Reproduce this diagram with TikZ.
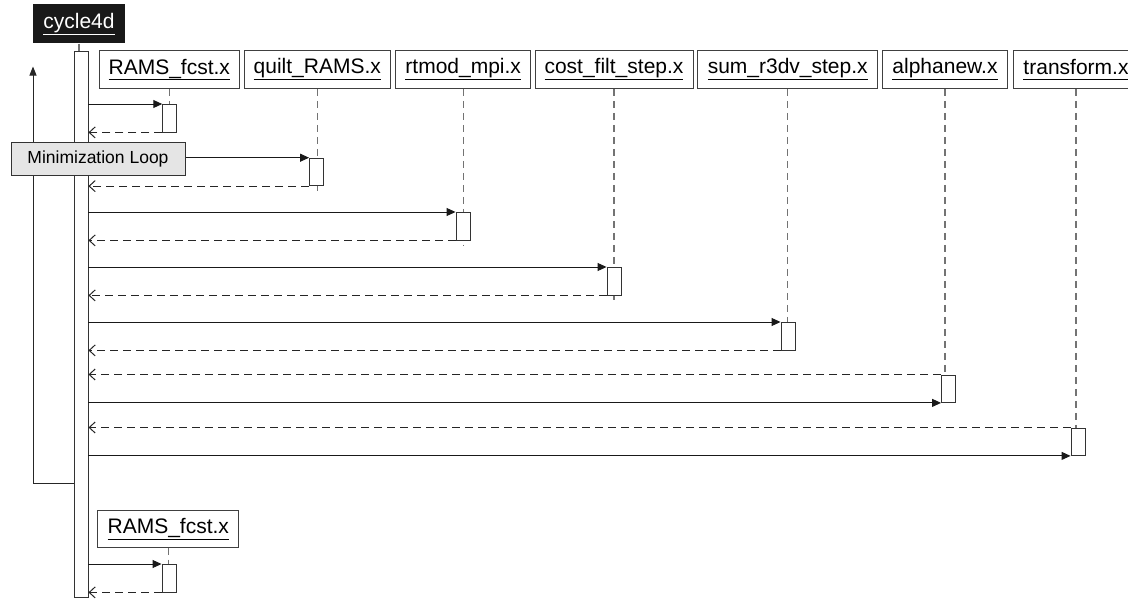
\documentclass[tikz,border=0pt]{standalone}
\usepackage{fontspec}
\setmainfont{Liberation Sans}
\usetikzlibrary{arrows.meta}
\newcommand{\ulname}[1]{\underline{\vphantom{\_}#1}}
\begin{document}
\begin{tikzpicture}[x=1pt,y=-1pt,
  obj/.style={draw=black!75, line width=0.9pt, fill=white, minimum height=38pt, inner sep=0pt, font=\fontsize{21}{24}\selectfont},
  act/.style={draw=black!80, fill=white, line width=0.9pt, minimum width=14pt, minimum height=27.5pt, inner sep=0pt, anchor=north},
  life/.style={draw=black!55, line width=1.2pt, dash pattern=on 7pt off 5pt},
  call/.style={draw=black!90, line width=1pt, -{Triangle[length=9pt,width=8pt]}},
  ret/.style={draw=black!85, line width=1pt, dash pattern=on 8pt off 5pt, -{Straight Barb[length=6pt,width=11pt]}},
  loopline/.style={draw=black!85, line width=1pt, -{Triangle[length=9pt,width=7pt]}},
]
\useasboundingbox (0,0) rectangle (1128,598);
% header and main activation
\node[fill=black!90, text=white, minimum width=92pt, minimum height=39pt, inner sep=0pt, font=\fontsize{21}{24}\selectfont] (c4) at (79,23.8) {\ulname{cycle4d}};
\node[draw=black!80, fill=white, line width=0.9pt, minimum width=14pt, minimum height=546pt, inner sep=0pt, anchor=north] (main) at (81,50.7) {};
\draw[life] (c4.south) -- (main.north -| c4.south);
% objects
\node[obj, minimum width=140pt] (o1) at (169.3,69.5) {\ulname{RAMS\_fcst.x}};
\node[obj, minimum width=146.7pt] (o2) at (317.3,69.5) {\ulname{quilt\_RAMS.x}};
\node[obj, minimum width=135pt] (o3) at (463.2,69.5) {\ulname{rtmod\_mpi.x}};
\node[obj, minimum width=158pt] (o4) at (614,69.5) {\ulname{cost\_filt\_step.x}};
\node[obj, minimum width=180pt] (o5) at (787.7,69.5) {\ulname{sum\_r3dv\_step.x}};
\node[obj, minimum width=125.4pt] (o6) at (945,69.5) {\ulname{alphanew.x}};
\node[obj, minimum width=126pt] (o7) at (1076,69.5) {\ulname{transform.x}};
\node[obj, minimum width=141pt, minimum height=37pt] (o8) at (168.3,528.7) {\ulname{RAMS\_fcst.x}};
% lifelines
\draw[life] (o1.south) -- ++(0,15.5);
\draw[life] (o2.south) -- ++(0,102.5);
\draw[life] (o3.south) -- ++(0,156.5);
\draw[life] (o4.south) -- ++(0,214.5);
\draw[life] (o5.south) -- ++(0,233.5);
\draw[life] (o6.south) -- ++(0,286);
\draw[life] (o7.south) -- ++(0,367);
\draw[life] (o8.south) -- ++(0,17);
% activations
\node[act] (a1) at (169.7,104) {};
\node[act] (a2) at (316.5,157.7) {};
\node[act] (a3) at (463,212) {};
\node[act] (a4) at (614,267) {};
\node[act] (a5) at (788,322) {};
\node[act] (a6) at (948.5,374.5) {};
\node[act] (a7) at (1078,427.5) {};
\node[act] (a8) at (169,564) {};
% messages
\draw[call] (main.east |- a1.north west) -- (a1.north west);
\draw[ret] (a1.south west) -- (main.east |- a1.south west);
\draw[call] (main.east |- a2.north west) -- (a2.north west);
\draw[ret] (a2.south west) -- (main.east |- a2.south west);
\draw[call] (main.east |- a3.north west) -- (a3.north west);
\draw[ret] (a3.south west) -- (main.east |- a3.south west);
\draw[call] (main.east |- a4.north west) -- (a4.north west);
\draw[ret] (a4.south west) -- (main.east |- a4.south west);
\draw[call] (main.east |- a5.north west) -- (a5.north west);
\draw[ret] (a5.south west) -- (main.east |- a5.south west);
\draw[ret] (a6.north west) -- (main.east |- a6.north west);
\draw[call] (main.east |- a6.south west) -- (a6.south west);
\draw[ret] (a7.north west) -- (main.east |- a7.north west);
\draw[call] (main.east |- a7.south west) -- (a7.south west);
\draw[call] (main.east |- a8.north west) -- (a8.north west);
\draw[ret] (a8.south west) -- (main.east |- a8.south west);
% loop
\coordinate (lc) at (33,483);
\coordinate (ltop) at (33,66.5);
\draw[loopline] (main.west |- lc) -- (lc) -- (ltop);
\node[draw=black!80, fill=black!10, line width=0.9pt, minimum width=174pt, minimum height=33pt, inner sep=0pt, font=\fontsize{17.5}{20}\selectfont] (ml) at (98,158.7) {Minimization Loop};
\end{tikzpicture}
\end{document}
